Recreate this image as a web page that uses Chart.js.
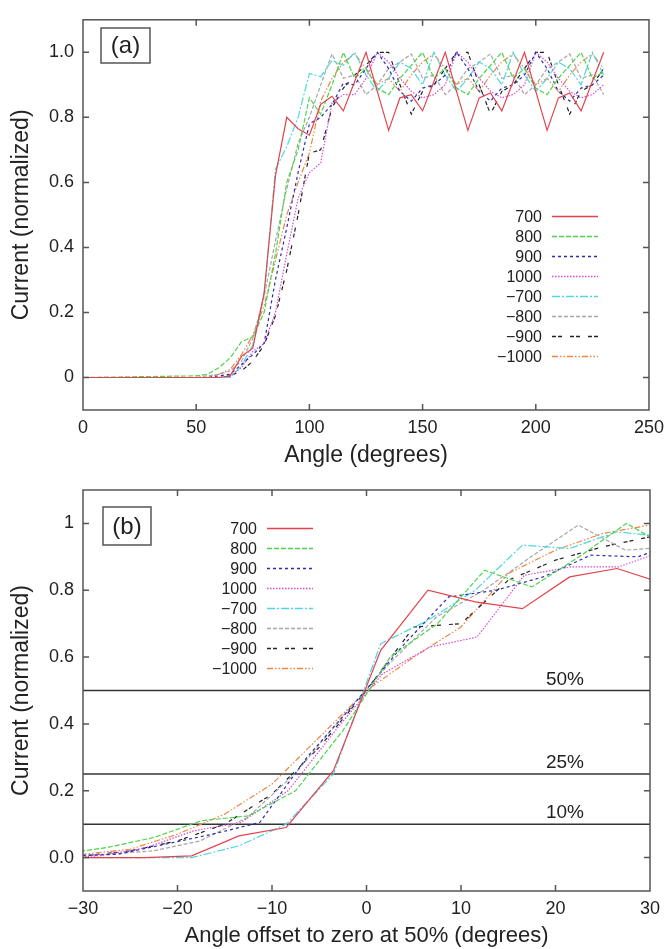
<!DOCTYPE html>
<html>
<head>
<meta charset="utf-8">
<script src="https://cdn.jsdelivr.net/npm/chart.js@4.4.0/dist/chart.umd.min.js"></script>
<style>
  html, body { margin: 0; padding: 0; background: #fff; }
  #wrapA { position: absolute; left: 0; top: 0; width: 671px; height: 470px; }
  #wrapB { position: absolute; left: 0; top: 470px; width: 671px; height: 479px; }
</style>
</head>
<body>
<div id="wrapA"><canvas id="chartA"></canvas></div>
<div id="wrapB"><canvas id="chartB"></canvas></div>
<script>
// angles sampled in panel (a), degrees
const angles = [0, 50, 55, 60, 65, 70, 75, 80, 85, 90, 95, 100, 105, 110, 115, 120, 125, 130, 135, 140,
  145, 150, 155, 160, 165, 170, 175, 180, 185, 190, 195, 200, 205, 210, 215, 220, 225, 230];

const cur700 = [0, 0, 0, 0, 0.005, 0.065, 0.09, 0.26, 0.62, 0.80, 0.765, 0.745, 0.84, 0.865, 0.82, 0.91, 1.0, 0.88, 0.76, 0.86,
  0.87, 0.82, 0.91, 1.0, 0.88, 0.76, 0.86, 0.875, 0.82, 0.91, 1.0, 0.88, 0.76, 0.86, 0.875, 0.82, 0.91, 1.0];
const cur800 = [0, 0.005, 0.01, 0.03, 0.06, 0.11, 0.125, 0.20, 0.38, 0.60, 0.70, 0.86, 0.81, 0.90, 1.0, 0.92, 0.95, 0.89, 0.87, 0.92,
  0.96, 1.0, 0.92, 0.95, 0.89, 0.87, 0.92, 0.96, 1.0, 0.92, 0.95, 0.89, 0.87, 0.92, 0.96, 1.0, 0.92, 0.94];
const cur900 = [0, 0, 0, 0.005, 0.01, 0.04, 0.07, 0.105, 0.30, 0.46, 0.63, 0.78, 0.80, 0.84, 0.905, 0.90, 0.95, 1.0, 0.95, 0.88,
  0.85, 0.89, 0.90, 0.93, 1.0, 0.95, 0.88, 0.85, 0.89, 0.90, 0.93, 1.0, 0.95, 0.88, 0.85, 0.89, 0.90, 0.93];
const cur1000 = [0, 0, 0, 0, 0.005, 0.03, 0.08, 0.105, 0.20, 0.38, 0.55, 0.63, 0.66, 0.845, 0.87, 0.87, 0.92, 1.0, 0.97, 0.92,
  0.88, 0.86, 0.87, 0.90, 1.0, 0.97, 0.92, 0.88, 0.86, 0.87, 0.90, 1.0, 0.97, 0.92, 0.88, 0.86, 0.87, 0.90];
const curM700 = [0, 0, 0, 0, 0, 0.035, 0.10, 0.25, 0.64, 0.71, 0.80, 0.935, 0.925, 0.975, 0.96, 1.0, 0.93, 0.88, 0.92, 0.97,
  0.95, 0.90, 1.0, 0.93, 0.88, 0.92, 0.97, 0.95, 0.90, 1.0, 0.93, 0.88, 0.92, 0.97, 0.95, 0.90, 1.0, 0.93];
const curM800 = [0, 0, 0.005, 0.01, 0.02, 0.05, 0.12, 0.25, 0.42, 0.58, 0.72, 0.80, 0.90, 0.995, 0.92, 0.93, 0.87, 0.90, 0.95, 0.97,
  0.995, 0.92, 0.93, 0.87, 0.90, 0.95, 0.97, 0.995, 0.92, 0.93, 0.87, 0.90, 0.95, 0.97, 0.995, 0.92, 0.93, 0.87];
const curM900 = [0, 0, 0, 0, 0.005, 0.02, 0.05, 0.10, 0.19, 0.33, 0.50, 0.69, 0.70, 0.83, 0.89, 0.93, 0.96, 1.0, 1.0, 0.90,
  0.81, 0.88, 0.90, 0.95, 1.0, 1.0, 0.90, 0.81, 0.88, 0.90, 0.95, 1.0, 1.0, 0.90, 0.81, 0.88, 0.90, 0.95];
const curM1000 = [0, 0, 0, 0.01, 0.025, 0.07, 0.13, 0.22, 0.36, 0.50, 0.60, 0.69, 0.85, 0.92, 0.97, 0.995, 0.95, 0.90, 0.92, 0.88,
  0.93, 0.97, 0.995, 0.95, 0.90, 0.92, 0.88, 0.93, 0.97, 0.995, 0.95, 0.90, 0.92, 0.88, 0.93, 0.97, 0.995, 0.95];

const seriesNames = ['700', '800', '900', '1000', '\u2212700', '\u2212800', '\u2212900', '\u22121000'];
const seriesValues = [cur700, cur800, cur900, cur1000, curM700, curM800, curM900, curM1000];
// angle where each curve crosses 50 %, used for panel (b)
const offsets50 = [83.5, 87.5, 91.3, 93.3, 83.5, 87.6, 95, 90];

const thresholds = [0.5, 0.25, 0.1];
const thresholdLabels = ['50%', '25%', '10%'];

const xTicksA = [0, 50, 100, 150, 200, 250];
const yTicksA = [0, 0.2, 0.4, 0.6, 0.8, 1.0];
const yLabelsA = ['0', '0.2', '0.4', '0.6', '0.8', '1.0'];
const xTicksB = [-30, -20, -10, 0, 10, 20, 30];
const xLabelsB = ['\u221230', '\u221220', '\u221210', '0', '10', '20', '30'];
const yTicksB = [0, 0.2, 0.4, 0.6, 0.8, 1];
const yLabelsB = ['0.0', '0.2', '0.4', '0.6', '0.8', '1'];

const styles = [
  { color: '#e4434c', dash: [] },
  { color: '#4cd44c', dash: [5, 2] },
  { color: '#2b2bb5', dash: [3, 3] },
  { color: '#d84cd8', dash: [1.5, 1.5] },
  { color: '#4fd6e0', dash: [8, 2, 2, 2] },
  { color: '#a6a6a6', dash: [4, 2] },
  { color: '#222222', dash: [4, 2, 4, 8] },
  { color: '#ec8644', dash: [6, 2, 1.5, 2, 1.5, 2] }
];

Chart.defaults.font.family = '"Liberation Sans", Arial, sans-serif';
Chart.defaults.color = '#222';

// box, inward ticks on all four sides
const framePlugin = {
  id: 'frame',
  afterDraw(chart) {
    const { ctx, chartArea: ca, scales } = chart;
    ctx.save();
    ctx.strokeStyle = '#555';
    ctx.lineWidth = 1.5;
    ctx.strokeRect(ca.left, ca.top, ca.right - ca.left, ca.bottom - ca.top);
    const tl = 6;
    ctx.beginPath();
    scales.x.ticks.forEach(t => {
      const px = scales.x.getPixelForValue(t.value);
      if (px <= ca.left + 1 || px >= ca.right - 1) return;
      ctx.moveTo(px, ca.bottom); ctx.lineTo(px, ca.bottom - tl);
      ctx.moveTo(px, ca.top); ctx.lineTo(px, ca.top + tl);
    });
    scales.y.ticks.forEach(t => {
      const py = scales.y.getPixelForValue(t.value);
      ctx.moveTo(ca.left, py); ctx.lineTo(ca.left + tl, py);
      ctx.moveTo(ca.right, py); ctx.lineTo(ca.right - tl, py);
    });
    ctx.stroke();
    ctx.restore();
  }
};

// legend inside plot + panel letter box
const keyPlugin = {
  id: 'key',
  afterDraw(chart, args, opts) {
    const ctx = chart.ctx;
    ctx.save();
    ctx.font = '16px "Liberation Sans", Arial, sans-serif';
    ctx.textAlign = 'right';
    ctx.textBaseline = 'middle';
    seriesNames.forEach((name, i) => {
      const y = opts.y + i * 20;
      ctx.fillStyle = '#222';
      ctx.fillText(name, opts.x, y + 1);
      ctx.strokeStyle = styles[i].color;
      ctx.lineWidth = 1.5;
      ctx.setLineDash(styles[i].dash);
      ctx.beginPath();
      ctx.moveTo(opts.x + 10, y);
      ctx.lineTo(opts.x + 56, y);
      ctx.stroke();
    });
    ctx.setLineDash([]);
    const b = opts.box;
    ctx.fillStyle = '#fff';
    ctx.fillRect(b.x, b.y, b.w, b.h);
    ctx.strokeStyle = '#555';
    ctx.lineWidth = 1.5;
    ctx.strokeRect(b.x, b.y, b.w, b.h);
    ctx.fillStyle = '#222';
    ctx.textAlign = 'center';
    ctx.font = '24px "Liberation Sans", Arial, sans-serif';
    ctx.fillText(b.text, b.x + b.w / 2, b.y + b.h / 2 + 1);
    ctx.restore();
  }
};

// percent labels above the threshold lines
const thresholdPlugin = {
  id: 'thr',
  afterDraw(chart, args, opts) {
    if (!opts.show) return;
    const { ctx, scales } = chart;
    ctx.save();
    ctx.font = '19px "Liberation Sans", Arial, sans-serif';
    ctx.fillStyle = '#222';
    ctx.textAlign = 'center';
    ctx.textBaseline = 'alphabetic';
    thresholds.forEach((v, i) => {
      ctx.fillText(thresholdLabels[i], scales.x.getPixelForValue(21), scales.y.getPixelForValue(v) - 6);
    });
    ctx.restore();
  }
};

function curveSets(shift) {
  return seriesValues.map((vals, i) => ({
    label: seriesNames[i],
    data: angles.map((a, j) => ({ x: a - (shift ? offsets50[i] : 0), y: vals[j] })),
    borderColor: styles[i].color,
    borderDash: styles[i].dash,
    borderWidth: 1.2,
    pointRadius: 0,
    tension: 0,
    fill: false
  }));
}

function axes(cfg) {
  return {
    x: {
      type: 'linear', min: cfg.xMin, max: cfg.xMax,
      grid: { display: false, drawTicks: false }, border: { display: false },
      afterBuildTicks: s => { s.ticks = cfg.xTicks.map(v => ({ value: v })); },
      ticks: { padding: 7, font: { size: 18 }, maxRotation: 0, autoSkip: false,
        callback: (v, i) => cfg.xLabels[i] },
      title: { display: true, text: cfg.xTitle, font: { size: cfg.xTitleSize }, padding: { top: 0, bottom: cfg.xTitlePad } },
      afterFit: s => { s.height = cfg.xHeight; }
    },
    y: {
      type: 'linear', min: -0.1, max: 1.1,
      grid: { display: false, drawTicks: false }, border: { display: false },
      afterBuildTicks: s => { s.ticks = cfg.yTicks.map(v => ({ value: v })); },
      ticks: { padding: 9, font: { size: 18 }, autoSkip: false,
        callback: (v, i) => cfg.yLabels[i] },
      title: { display: true, text: 'Current (normalized)', font: { size: 23 }, padding: { top: 8, bottom: 0 } },
      afterFit: s => { s.width = 83; }
    }
  };
}

new Chart(document.getElementById('chartA'), {
  type: 'line',
  data: { datasets: curveSets(false) },
  options: {
    responsive: true, maintainAspectRatio: false, animation: false, devicePixelRatio: 1,
    layout: { padding: { left: 0, right: 21, top: 13, bottom: 0 } },
    scales: axes({ xMin: 0, xMax: 250, xTicks: xTicksA, xLabels: xTicksA.map(String), yTicks: yTicksA, yLabels: yLabelsA,
      xTitle: 'Angle (degrees)', xTitleSize: 23, xTitlePad: 1, xHeight: 60 }),
    plugins: {
      legend: { display: false }, tooltip: { enabled: false },
      key: { x: 542, y: 216.5, box: { x: 101, y: 28, w: 49, h: 35, text: '(a)' } },
      thr: { show: false }
    }
  },
  plugins: [framePlugin, keyPlugin, thresholdPlugin]
});

const lineSets = thresholds.map(v => ({
  label: 'thr',
  data: [{ x: -30, y: v }, { x: 30, y: v }],
  borderColor: '#333', borderWidth: 1.5, pointRadius: 0, fill: false
}));

new Chart(document.getElementById('chartB'), {
  type: 'line',
  data: { datasets: curveSets(true).concat(lineSets) },
  options: {
    responsive: true, maintainAspectRatio: false, animation: false, devicePixelRatio: 1,
    layout: { padding: { left: 0, right: 21, top: 20, bottom: 0 } },
    scales: axes({ xMin: -30, xMax: 30, xTicks: xTicksB, xLabels: xLabelsB, yTicks: yTicksB, yLabels: yLabelsB,
      xTitle: 'Angle offset to zero at 50% (degrees)', xTitleSize: 22, xTitlePad: 0, xHeight: 58 }),
    plugins: {
      legend: { display: false }, tooltip: { enabled: false },
      key: { x: 257, y: 58.5, box: { x: 103, y: 37, w: 48, h: 38, text: '(b)' } },
      thr: { show: true }
    }
  },
  plugins: [framePlugin, keyPlugin, thresholdPlugin]
});
</script>
</body>
</html>
